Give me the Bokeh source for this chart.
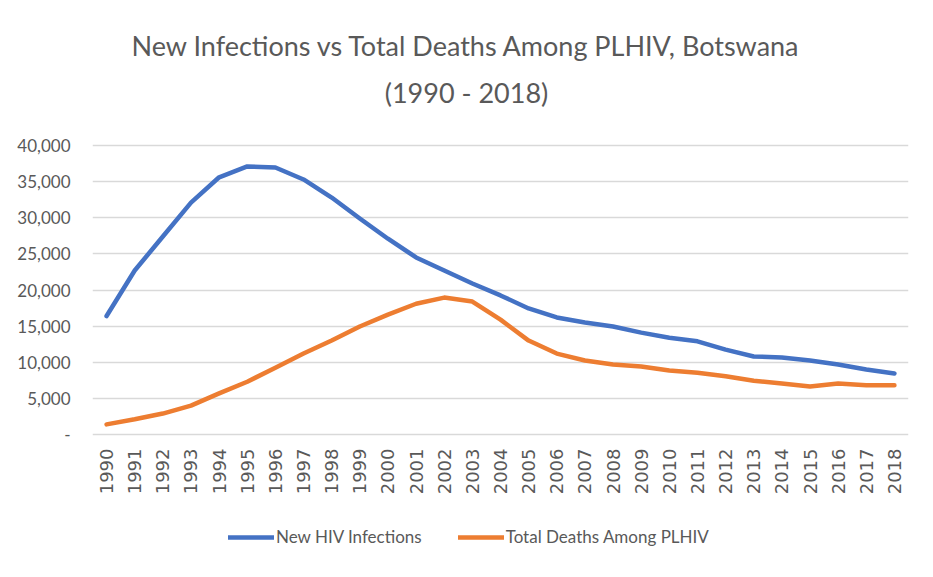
import math
from bokeh.plotting import figure
from bokeh.models import (Range1d, FixedTicker, NumeralTickFormatter, Legend, LegendItem, Label)
from bokeh.embed import file_html
from bokeh.resources import INLINE

years = list(range(1990, 2019))
new_infections = [16400, 22700, 27400, 32100, 35600, 37100, 36950, 35300, 32800, 29900,
                  27100, 24500, 22700, 20900, 19250, 17450, 16200, 15500, 14950, 14100,
                  13400, 12900, 11750, 10800, 10650, 10250, 9700, 9000, 8450]
total_deaths = [1400, 2100, 2900, 4000, 5700, 7300, 9250, 11200, 13000, 14950,
                16600, 18100, 18950, 18400, 15900, 13000, 11200, 10250, 9700, 9400,
                8850, 8550, 8050, 7450, 7050, 6650, 7050, 6800, 6800]
y_ticks = [0, 5000, 10000, 15000, 20000, 25000, 30000, 35000, 40000]
title_line1 = "New Infections vs Total Deaths Among PLHIV, Botswana"
title_line2 = "(1990 - 2018)"
series_names = ["New HIV Infections", "Total Deaths Among PLHIV"]

GRAY = "#595959"
FONT = "Lato"

# layout (pixels): canvas 917 x 561; value axis 0..40000 spans canvas y 434..145
W, H = 917, 561
LEFT, RIGHT = 92, 9
PLOT_TOP, PLOT_BOTTOM = 145, 434
ymax_val = max(y_ticks)
per_px = ymax_val / (PLOT_BOTTOM - PLOT_TOP)
y_hi = ymax_val + PLOT_TOP * per_px
y_lo = -(H - PLOT_BOTTOM) * per_px

p = figure(frame_width=W - LEFT - RIGHT, frame_height=H, output_backend="svg", toolbar_location=None,
           x_range=Range1d(years[0] - 0.5, years[-1] + 0.5), y_range=Range1d(y_lo, y_hi),
           min_border_left=LEFT, min_border_right=RIGHT, min_border_top=0, min_border_bottom=0)
p.outline_line_color = None
p.background_fill_color = "white"
p.border_fill_color = "white"

r1 = p.line(years, new_infections, line_color="#4472C4", line_width=4.5, line_join="round", line_cap="round")
r2 = p.line(years, total_deaths, line_color="#ED7D31", line_width=4.5, line_join="round", line_cap="round")

# titles (screen units, relative to the frame's bottom-left)
cx = 466 - LEFT
p.add_layout(Label(x=cx, y=H - 45, x_units="screen", y_units="screen", text=title_line1,
                   text_align="center", text_baseline="middle", text_font=FONT,
                   text_font_size="27px", text_color=GRAY))
p.add_layout(Label(x=cx, y=H - 92, x_units="screen", y_units="screen", text=title_line2,
                   text_align="center", text_baseline="middle", text_font=FONT,
                   text_font_size="27px", text_color=GRAY))

# axes
p.xaxis.fixed_location = 0
p.xaxis.ticker = FixedTicker(ticks=years)
p.xaxis.major_label_orientation = math.pi / 2
p.xaxis.major_label_text_font = "DejaVu Sans"
p.xaxis.major_label_text_font_size = "18px"
p.xaxis.major_label_text_color = GRAY
p.xaxis.axis_line_color = None
p.xaxis.major_tick_line_color = None
p.xaxis.minor_tick_line_color = None
p.xaxis.major_tick_out = 0
p.xaxis.major_tick_in = 0
p.xaxis.major_label_standoff = 14

p.yaxis.ticker = FixedTicker(ticks=y_ticks)
p.yaxis.formatter = NumeralTickFormatter(format="0,0")
p.yaxis.major_label_overrides = {0: "-"}
p.yaxis.major_label_text_font = FONT
p.yaxis.major_label_text_font_size = "17px"
p.yaxis.major_label_text_color = GRAY
p.yaxis.axis_line_color = None
p.yaxis.major_tick_line_color = None
p.yaxis.minor_tick_line_color = None
p.yaxis.major_tick_out = 0
p.yaxis.major_tick_in = 0
p.yaxis.major_label_standoff = 22

p.xgrid.grid_line_color = None
p.ygrid.ticker = FixedTicker(ticks=y_ticks)
p.ygrid.grid_line_color = "#D9D9D9"
p.ygrid.grid_line_width = 1.5

legend = Legend(items=[LegendItem(label=series_names[0], renderers=[r1]),
                       LegendItem(label=series_names[1], renderers=[r2])],
                orientation="horizontal", location=(136, 14),
                label_text_font=FONT, label_text_font_size="17px", label_text_color=GRAY,
                glyph_width=46, glyph_height=20, label_standoff=2, spacing=36,
                border_line_color=None, background_fill_alpha=0, margin=0, padding=4)
p.add_layout(legend)

open("out.html", "w").write(file_html(p, INLINE))
